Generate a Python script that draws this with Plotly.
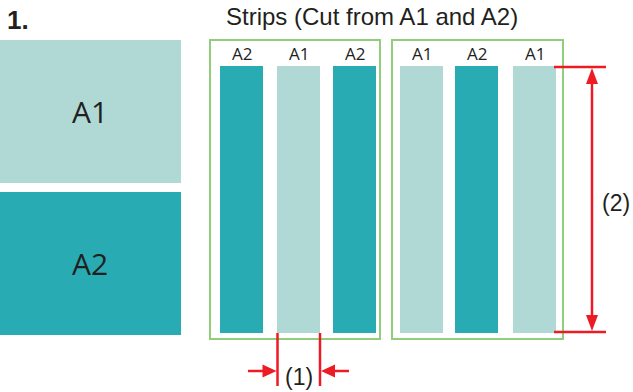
import plotly.graph_objects as go

# sheets on the left
sheet_names = ['A1', 'A2']
sheet_colors = ['#b0d9d6', '#29abb3']
sheet_top = [40, 192]
sheet_bottom = [183, 335]
sheet_right = 181

# strips, two groups of three
strip_labels = ['A2', 'A1', 'A2', 'A1', 'A2', 'A1']
strip_left = [220, 277, 333, 400, 455, 513]
strip_width = 43
strip_top = 66
strip_bottom = 333
group_left = [210, 392]
group_right = [380, 563]
group_top = 40
group_bottom = 339

# dimension marks
dim1_x = [277.5, 320]
dim1_y = 371
dim2_x = 592
dim2_y = [67, 332]

LIGHT = '#b0d9d6'
DARK = '#29abb3'
GREEN = '#92cd7c'
RED = '#ed1c24'
TXT = '#231f20'

fig = go.Figure()
shapes = []
ann = []

for name, col, y0, y1 in zip(sheet_names, sheet_colors, sheet_top, sheet_bottom):
  shapes.append(dict(type='rect', x0=0, x1=sheet_right, y0=y0, y1=y1,
                     fillcolor=col, line=dict(width=0), layer='below'))
  ann.append(dict(x=sheet_right / 2 - 1, y=(y0 + y1) / 2, text=name, showarrow=False,
                  font=dict(family='Open Sans', size=30, color=TXT)))

for x0, x1 in zip(group_left, group_right):
  shapes.append(dict(type='rect', x0=x0, x1=x1, y0=group_top, y1=group_bottom,
                     line=dict(color=GREEN, width=2)))

for lab, x0 in zip(strip_labels, strip_left):
  col = LIGHT if lab == 'A1' else DARK
  shapes.append(dict(type='rect', x0=x0, x1=x0 + strip_width, y0=strip_top, y1=strip_bottom,
                     fillcolor=col, line=dict(width=0), layer='below'))
  ann.append(dict(x=x0 + strip_width / 2, y=53.5, text=lab, showarrow=False,
                  font=dict(family='Open Sans', size=17, color=TXT)))

# (1) width marks
for x in dim1_x:
  shapes.append(dict(type='line', x0=x, x1=x, y0=strip_bottom, y1=386,
                     line=dict(color=RED, width=2.5)))
lx, rx = dim1_x
shapes.append(dict(type='line', x0=248, x1=lx - 8, y0=dim1_y, y1=dim1_y, line=dict(color=RED, width=2.5)))
shapes.append(dict(type='line', x0=rx + 8, x1=349, y0=dim1_y, y1=dim1_y, line=dict(color=RED, width=2.5)))
shapes.append(dict(type='path', path=f'M {lx-1} {dim1_y} L {lx-15} {dim1_y-6.5} L {lx-15} {dim1_y+6.5} Z',
                   fillcolor=RED, line=dict(width=0)))
shapes.append(dict(type='path', path=f'M {rx+1} {dim1_y} L {rx+15} {dim1_y-6.5} L {rx+15} {dim1_y+6.5} Z',
                   fillcolor=RED, line=dict(width=0)))
ann.append(dict(x=(lx + rx) / 2, y=377, text='(1)', showarrow=False,
                font=dict(family='Liberation Sans', size=23, color=TXT)))

# (2) height marks
ty, by = dim2_y
for y in dim2_y:
  shapes.append(dict(type='line', x0=554, x1=606, y0=y, y1=y, line=dict(color=RED, width=2.5)))
shapes.append(dict(type='line', x0=dim2_x, x1=dim2_x, y0=ty + 10, y1=by - 10,
                   line=dict(color=RED, width=2.5)))
shapes.append(dict(type='path', path=f'M {dim2_x} {ty+1} L {dim2_x-6} {ty+17} L {dim2_x+6} {ty+17} Z',
                   fillcolor=RED, line=dict(width=0)))
shapes.append(dict(type='path', path=f'M {dim2_x} {by-1} L {dim2_x-6} {by-17} L {dim2_x+6} {by-17} Z',
                   fillcolor=RED, line=dict(width=0)))
ann.append(dict(x=616, y=203, text='(2)', showarrow=False,
                font=dict(family='Liberation Sans', size=23, color=TXT)))

ann.append(dict(x=5, y=20, text='<b>1.</b>', showarrow=False, xanchor='left',
                font=dict(family='Liberation Sans', size=26, color=TXT)))
ann.append(dict(x=372, y=16, text='Strips (Cut from A1 and A2)', showarrow=False,
                font=dict(family='Liberation Sans', size=24, color=TXT)))

fig.update_layout(
  width=633, height=392,
  margin=dict(l=0, r=0, t=0, b=0),
  paper_bgcolor='white', plot_bgcolor='white',
  xaxis=dict(range=[0, 633], visible=False, fixedrange=True),
  yaxis=dict(range=[392, 0], visible=False, fixedrange=True),
  shapes=shapes, annotations=ann, showlegend=False,
)

# page body has an 8px margin by default, drop it so the drawing sits at 0,0
fig.write_html("out.html", config=dict(displayModeBar=False),
               post_script="document.body.style.margin='0';document.body.style.overflow='hidden';")
